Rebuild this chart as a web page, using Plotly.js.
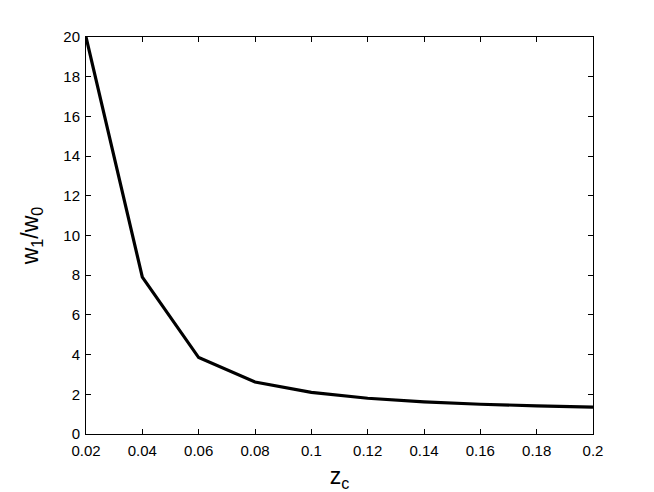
<!DOCTYPE html>
<html><head><meta charset="utf-8">
<script src="https://cdn.plot.ly/plotly-3.0.1.min.js"></script>
<style>html,body{margin:0;padding:0;background:#fff}</style>
</head><body>
<div id="chart" style="width:654px;height:492px"></div>
<script>
const zc = [0.02, 0.04, 0.06, 0.08, 0.10, 0.12, 0.14, 0.16, 0.18, 0.20];
const ratio = [20.0, 7.9, 3.85, 2.62, 2.1, 1.8, 1.62, 1.5, 1.42, 1.35];
const xTicks = [0.02, 0.04, 0.06, 0.08, 0.1, 0.12, 0.14, 0.16, 0.18, 0.2];
const xTickText = ['0.02','0.04','0.06','0.08','0.1','0.12','0.14','0.16','0.18','0.2'];
const yTicks = [0, 2, 4, 6, 8, 10, 12, 14, 16, 18, 20];

const font = 'Liberation Sans, Arial, Helvetica, sans-serif';
Plotly.newPlot('chart', [{
  x: zc, y: ratio, type: 'scatter', mode: 'lines',
  line: {color: '#000', width: 3.2}
}], {
  width: 654, height: 492,
  margin: {l: 86, r: 61, t: 37, b: 58},
  paper_bgcolor: '#fff', plot_bgcolor: '#fff',
  showlegend: false,
  font: {family: font, color: '#000', size: 15},
  xaxis: {
    range: [0.02, 0.2], tickvals: xTicks, ticktext: xTickText,
    ticks: 'inside', ticklen: 5, tickwidth: 1, tickcolor: '#000',
    showline: true, linecolor: '#000', linewidth: 1, mirror: 'ticks',
    showgrid: false, zeroline: false, ticklabelstandoff: 3,
    tickfont: {size: 15, family: font},
    title: {text: 'z<sub>c</sub>', font: {size: 23, family: font}, standoff: 10}
  },
  yaxis: {
    range: [0, 20], tickvals: yTicks,
    ticks: 'inside', ticklen: 5, tickwidth: 1, tickcolor: '#000',
    showline: true, linecolor: '#000', linewidth: 1, mirror: 'ticks',
    showgrid: false, zeroline: false, ticklabelstandoff: 2,
    tickfont: {size: 15, family: font},
    title: {text: 'w<sub>1</sub>/w<sub>0</sub>', font: {size: 23, family: font}, standoff: 18}
  }
}, {displayModeBar: false, staticPlot: true});
</script>
</body></html>
